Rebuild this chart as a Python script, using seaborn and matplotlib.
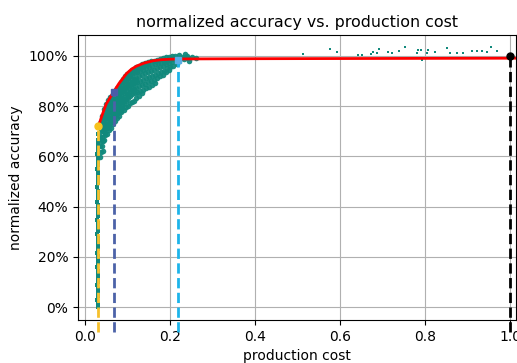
import numpy as np
import pandas as pd
import seaborn as sns
import matplotlib.pyplot as plt
from matplotlib.ticker import PercentFormatter

# %% data

# thin column of runs at the cheapest cost
strip_cost = [0.030, 0.031, 0.029, 0.030, 0.031, 0.030, 0.029, 0.031, 0.030, 0.030,
              0.031, 0.029, 0.030, 0.031, 0.030, 0.029, 0.031, 0.030, 0.030, 0.031,
              0.029, 0.030, 0.031, 0.030, 0.029, 0.031, 0.030, 0.030, 0.031, 0.029,
              0.030, 0.031, 0.030, 0.029, 0.031, 0.030, 0.030, 0.031, 0.029, 0.030,
              0.031, 0.030, 0.029, 0.031, 0.030, 0.030, 0.031, 0.032]
strip_acc = [0.000, 0.014, 0.029, 0.043, 0.058, 0.072, 0.087, 0.101, 0.116, 0.130,
             0.145, 0.159, 0.174, 0.188, 0.203, 0.217, 0.232, 0.246, 0.261, 0.275,
             0.290, 0.304, 0.319, 0.333, 0.348, 0.362, 0.377, 0.391, 0.406, 0.420,
             0.435, 0.449, 0.464, 0.478, 0.493, 0.507, 0.522, 0.536, 0.551, 0.565,
             0.580, 0.594, 0.609, 0.623, 0.638, 0.652, 0.667, 0.690]

# main cloud of runs
cloud_cost = [0.035, 0.037, 0.036, 0.038, 0.035, 0.037, 0.036, 0.038, 0.036,
              0.040, 0.042, 0.041, 0.043, 0.040, 0.042, 0.041, 0.043, 0.040, 0.042,
              0.045, 0.047, 0.046, 0.048, 0.045, 0.047, 0.046, 0.048, 0.045, 0.047,
              0.050, 0.052, 0.051, 0.053, 0.050, 0.052, 0.051, 0.053, 0.050, 0.052,
              0.055, 0.057, 0.056, 0.058, 0.055, 0.057, 0.056, 0.058, 0.055, 0.057,
              0.060, 0.062, 0.061, 0.063, 0.060, 0.062, 0.061, 0.063, 0.060, 0.062,
              0.065, 0.067, 0.066, 0.068, 0.065, 0.067, 0.066, 0.068, 0.065, 0.067,
              0.070, 0.072, 0.071, 0.073, 0.070, 0.072, 0.071, 0.073, 0.070, 0.072,
              0.075, 0.077, 0.076, 0.078, 0.075, 0.077, 0.076, 0.078, 0.075, 0.077,
              0.080, 0.082, 0.081, 0.083, 0.080, 0.082, 0.081, 0.083, 0.080, 0.082,
              0.085, 0.087, 0.086, 0.088, 0.085, 0.087, 0.086, 0.088, 0.085, 0.087,
              0.090, 0.092, 0.091, 0.093, 0.090, 0.092, 0.091, 0.093, 0.090, 0.092,
              0.095, 0.097, 0.096, 0.098, 0.095, 0.097, 0.096, 0.098, 0.095, 0.097,
              0.100, 0.102, 0.101, 0.103, 0.100, 0.102, 0.101, 0.103, 0.100, 0.102,
              0.105, 0.107, 0.106, 0.108, 0.105, 0.107, 0.106, 0.108, 0.105,
              0.110, 0.112, 0.111, 0.113, 0.110, 0.112, 0.111, 0.113, 0.110,
              0.115, 0.117, 0.116, 0.118, 0.115, 0.117, 0.116, 0.118, 0.115,
              0.120, 0.122, 0.121, 0.123, 0.120, 0.122, 0.121, 0.123, 0.120,
              0.127, 0.129, 0.128, 0.130, 0.127, 0.129, 0.128, 0.130,
              0.134, 0.136, 0.135, 0.137, 0.134, 0.136, 0.135, 0.137,
              0.141, 0.143, 0.142, 0.144, 0.141, 0.143, 0.142,
              0.148, 0.150, 0.149, 0.151, 0.148, 0.150, 0.149,
              0.155, 0.157, 0.156, 0.158, 0.155, 0.157,
              0.162, 0.164, 0.163, 0.165, 0.162, 0.164,
              0.169, 0.171, 0.170, 0.172, 0.169,
              0.176, 0.178, 0.177, 0.179, 0.176,
              0.183, 0.185, 0.184, 0.186, 0.183,
              0.190, 0.192, 0.191, 0.193, 0.190,
              0.197, 0.199, 0.198, 0.200, 0.197,
              0.205, 0.207, 0.206, 0.208,
              0.213, 0.215, 0.214, 0.216,
              0.221, 0.223, 0.222,
              0.230, 0.232,
              0.240, 0.243,
              0.252, 0.262, 0.235, 0.245]
cloud_acc = [0.735, 0.702, 0.683, 0.661, 0.643, 0.618, 0.598, 0.712, 0.671,
             0.762, 0.741, 0.718, 0.703, 0.679, 0.662, 0.641, 0.752, 0.709, 0.622,
             0.787, 0.764, 0.748, 0.723, 0.706, 0.684, 0.667, 0.776, 0.733, 0.693,
             0.809, 0.792, 0.768, 0.751, 0.728, 0.712, 0.688, 0.801, 0.762, 0.719,
             0.824, 0.801, 0.785, 0.761, 0.745, 0.721, 0.706, 0.812, 0.772, 0.733,
             0.836, 0.816, 0.793, 0.777, 0.753, 0.737, 0.713, 0.826, 0.786, 0.744,
             0.848, 0.826, 0.809, 0.785, 0.768, 0.746, 0.729, 0.838, 0.796, 0.758,
             0.861, 0.839, 0.822, 0.801, 0.779, 0.762, 0.741, 0.851, 0.811, 0.769,
             0.871, 0.852, 0.828, 0.812, 0.788, 0.772, 0.751, 0.861, 0.819, 0.781,
             0.882, 0.859, 0.842, 0.818, 0.803, 0.779, 0.762, 0.872, 0.831, 0.791,
             0.896, 0.874, 0.857, 0.833, 0.816, 0.794, 0.777, 0.886, 0.846, 0.806,
             0.909, 0.891, 0.868, 0.852, 0.828, 0.812, 0.786, 0.901, 0.859, 0.821,
             0.919, 0.902, 0.878, 0.862, 0.838, 0.821, 0.797, 0.911, 0.871, 0.829,
             0.929, 0.911, 0.888, 0.872, 0.848, 0.832, 0.801, 0.921, 0.879, 0.841,
             0.938, 0.921, 0.898, 0.882, 0.858, 0.841, 0.811, 0.931, 0.889,
             0.944, 0.926, 0.904, 0.887, 0.864, 0.847, 0.816, 0.936, 0.894,
             0.949, 0.931, 0.909, 0.892, 0.868, 0.852, 0.822, 0.941, 0.899,
             0.955, 0.936, 0.914, 0.897, 0.874, 0.857, 0.831, 0.946, 0.906,
             0.961, 0.941, 0.921, 0.902, 0.881, 0.862, 0.842, 0.951,
             0.966, 0.946, 0.926, 0.906, 0.884, 0.866, 0.852, 0.957,
             0.971, 0.952, 0.931, 0.911, 0.889, 0.871, 0.962,
             0.975, 0.957, 0.936, 0.916, 0.896, 0.877, 0.966,
             0.979, 0.961, 0.941, 0.921, 0.902, 0.886,
             0.981, 0.966, 0.946, 0.926, 0.906, 0.891,
             0.984, 0.971, 0.951, 0.931, 0.911,
             0.987, 0.973, 0.956, 0.936, 0.921,
             0.991, 0.976, 0.961, 0.941, 0.926,
             0.994, 0.981, 0.966, 0.951, 0.936,
             0.996, 0.983, 0.971, 0.956, 0.946,
             1.001, 0.986, 0.976, 0.961,
             0.999, 0.989, 0.979, 0.966,
             1.003, 0.991, 0.981,
             0.996, 0.986,
             1.001, 0.991,
             0.996, 0.991, 1.006, 0.978]

# few expensive runs near the top
sparse_cost = [0.512, 0.576, 0.592, 0.642, 0.651, 0.673, 0.677, 0.686, 0.692, 0.713,
               0.723, 0.738, 0.754, 0.784, 0.782, 0.790, 0.792, 0.808, 0.805, 0.824,
               0.851, 0.859, 0.875, 0.890, 0.910, 0.922, 0.933, 0.945, 0.955, 0.969]
sparse_acc = [1.008, 1.027, 1.016, 1.003, 1.003, 1.008, 1.015, 1.011, 1.028, 1.016,
              1.013, 1.020, 1.035, 1.024, 1.011, 1.024, 0.984, 1.024, 1.011, 1.017,
              1.032, 1.013, 1.011, 1.011, 1.018, 1.020, 1.018, 1.016, 1.035, 1.020]

# upper envelope (red)
front_cost = [0.032, 0.040, 0.050, 0.060, 0.068, 0.080, 0.098, 0.110, 0.122, 0.140,
              0.161, 0.180, 0.200, 0.220, 0.400, 1.014]
front_acc = [0.720, 0.762, 0.808, 0.836, 0.858, 0.890, 0.930, 0.948, 0.960, 0.972,
             0.981, 0.985, 0.987, 0.988, 0.989, 0.991]

# highlighted picks
pick_cost = [0.032, 0.068, 0.218, 1.0]
pick_acc = [0.720, 0.858, 0.984, 0.998]
pick_marker = ['o', 's', 's', 'o']
pick_color = ['#f7c21c', '#4a5da8', '#5aaee6', 'black']
pick_line = ['#f6c02c', '#4c62a8', '#1db4ea', 'black']

# %% plot

cloud = pd.DataFrame({'cost': cloud_cost, 'acc': cloud_acc})
strip = pd.DataFrame({'cost': strip_cost, 'acc': strip_acc})
sparse = pd.DataFrame({'cost': sparse_cost, 'acc': sparse_acc})
front = pd.DataFrame({'cost': front_cost, 'acc': front_acc})

fig, ax = plt.subplots(figsize=(5.17, 3.63), dpi=100)
fig.subplots_adjust(left=0.151, right=0.998, top=0.904, bottom=0.118)

ax.grid(True, color='#b0b0b0', linewidth=0.8)
ax.set_axisbelow(True)

teal = '#11897c'
sns.scatterplot(data=cloud, x='cost', y='acc', color=teal, s=16,
                linewidth=0, alpha=0.95, ax=ax)
sns.scatterplot(data=strip, x='cost', y='acc', color=teal, s=5,
                marker='s', linewidth=0, ax=ax)
sns.scatterplot(data=sparse, x='cost', y='acc', color=teal, s=3,
                marker='s', linewidth=0, ax=ax)
sns.lineplot(data=front, x='cost', y='acc', color='red', linewidth=2,
             sort=False, ax=ax)

for c, a, m, col, lc in zip(pick_cost, pick_acc, pick_marker, pick_color, pick_line):
    ax.plot([c, c], [-0.1, a], '--', color=lc, linewidth=2, clip_on=False)
    ax.plot([c], [a], marker=m, color=col, markersize=5, clip_on=False, zorder=5)

ax.set_xlim(-0.016, 1.014)
ax.set_ylim(-0.052, 1.084)
ax.set_xticks([0.0, 0.2, 0.4, 0.6, 0.8, 1.0])
ax.set_yticks([0.0, 0.2, 0.4, 0.6, 0.8, 1.0])
ax.yaxis.set_major_formatter(PercentFormatter(1.0, decimals=0))

ax.set_title('normalized accuracy vs. production cost', fontsize=11.4)
ax.set_xlabel('production cost')
ax.set_ylabel('normalized accuracy')

fig.savefig('out.png', dpi=100)
